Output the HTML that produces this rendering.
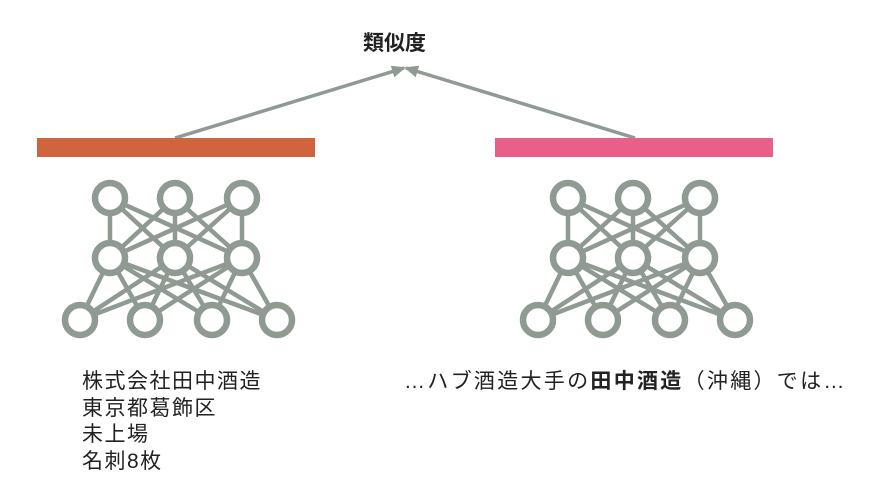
<!DOCTYPE html>
<html><head><meta charset="utf-8"><style>
html,body{margin:0;padding:0;background:#fff;width:878px;height:497px;overflow:hidden;position:relative}
.t{position:absolute;font-family:"Liberation Sans","Noto Sans CJK JP",sans-serif;color:#222;white-space:nowrap;font-size:21px;letter-spacing:1.5px;line-height:26.5px}
</style></head><body>
<svg width="878" height="497" style="position:absolute;left:0;top:0">
<defs><marker id="a" markerWidth="14" markerHeight="12" refX="12" refY="6" orient="auto" markerUnits="userSpaceOnUse"><path d="M0,0 L14,6 L0,12 z" fill="#8E9A92"/></marker></defs>
<line x1="175" y1="138" x2="404" y2="68" stroke="#8E9A92" stroke-width="3.5" marker-end="url(#a)"/>
<line x1="635" y1="138" x2="406" y2="68" stroke="#8E9A92" stroke-width="3.5" marker-end="url(#a)"/>
<rect x="37" y="138" width="278" height="19" fill="#D0643F"/>
<rect x="495" y="138" width="278" height="19" fill="#E8608A"/>
<g id="nn" stroke="#8E9A92" stroke-width="6.5" fill="none">
<g stroke-width="4.5">
<path d="M110,198L110,258M110,198L175,258M110,198L242,258M175,198L110,258M175,198L175,258M175,198L242,258M242,198L110,258M242,198L175,258M242,198L242,258"/>
<path d="M110,258L80,320M110,258L145,320M110,258L212,320M110,258L277,320M175,258L80,320M175,258L145,320M175,258L212,320M175,258L277,320M242,258L80,320M242,258L145,320M242,258L212,320M242,258L277,320"/>
</g>
<g fill="#fff">
<circle cx="110" cy="198" r="15"/><circle cx="175" cy="198" r="15"/><circle cx="242" cy="198" r="15"/>
<circle cx="110" cy="258" r="15"/><circle cx="175" cy="258" r="15"/><circle cx="242" cy="258" r="15"/>
<circle cx="80" cy="320" r="15"/><circle cx="145" cy="320" r="15"/><circle cx="212" cy="320" r="15"/><circle cx="277" cy="320" r="15"/>
</g>
</g>
<use href="#nn" x="458" y="0"/>
</svg>
<div class="t" style="left:363px;top:31px;font-size:21px;font-weight:bold;letter-spacing:0">類似度</div>
<div class="t" style="left:82px;top:369px">株式会社田中酒造<br>東京都葛飾区<br>未上場<br>名刺8枚</div>
<div class="t" style="left:404px;top:369px;letter-spacing:2.3px">…ハブ酒造大手の<b>田中酒造</b>（沖縄）では…</div>
</body></html>
